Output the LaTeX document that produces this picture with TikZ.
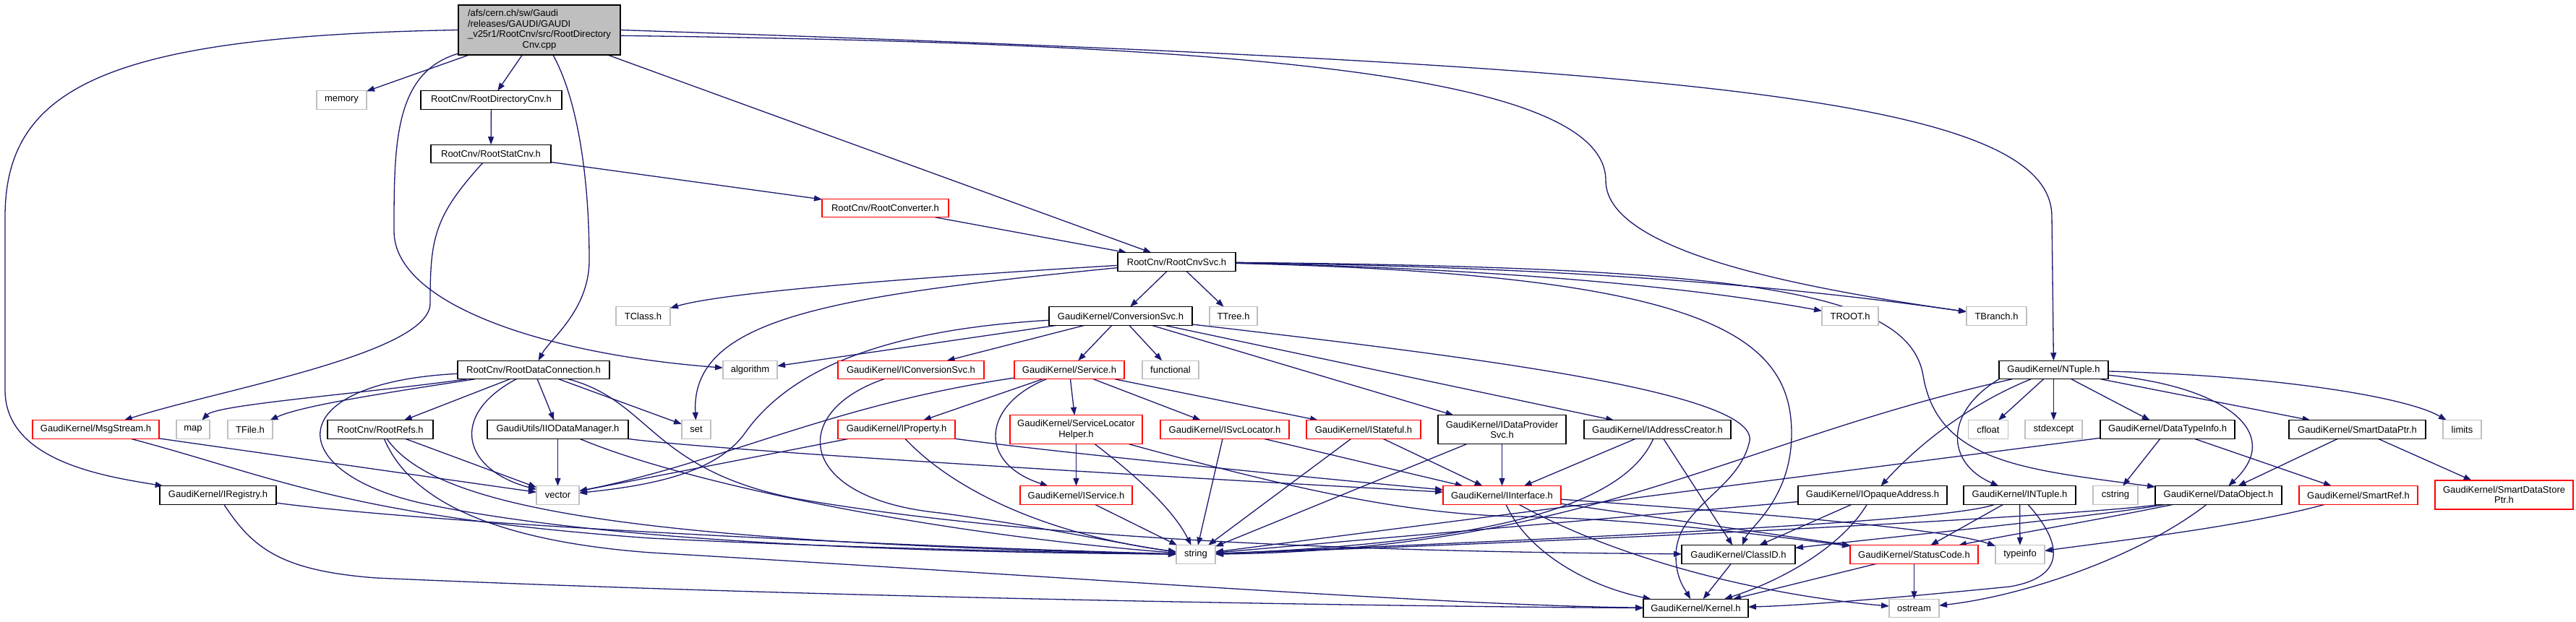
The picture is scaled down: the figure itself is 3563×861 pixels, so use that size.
\documentclass[tikz,border=0pt]{standalone}
\usepackage{fontspec}
\newfontfamily\dfont{Liberation Sans}
\usetikzlibrary{arrows.meta}
\definecolor{edgec}{HTML}{191970}
\definecolor{sysgray}{HTML}{BFBFBF}
\definecolor{rootgray}{HTML}{BFBFBF}
\definecolor{truncred}{HTML}{FF0000}
\pgfdeclarelayer{bg}
\pgfsetlayers{bg,main}
\begin{document}
\begin{tikzpicture}[x=1pt,y=-1pt,
  nd/.style={rectangle,fill=white,line width=1.4pt,inner sep=0pt,outer sep=0pt,minimum height=25.5pt,font=\dfont\fontsize{13}{14.5}\selectfont},
  blk/.style={nd,draw=black},
  sys/.style={nd,draw=sysgray},
  trc/.style={nd,draw=truncred},
  dep/.style={draw=edgec,line width=1.3pt,-{Triangle[length=11pt,width=8pt]}}
]
\useasboundingbox (0,0) rectangle (3563,861);
% ---------- nodes ----------
\node[blk,fill=rootgray,minimum width=224pt,minimum height=69pt] (root) at (746,41.5)
  {\begin{tabular}{@{}l@{}}/afs/cern.ch/sw/Gaudi\\/releases/GAUDI/GAUDI\\\_v25r1/RootCnv/src/RootDirectory\\\multicolumn{1}{@{}c@{}}{Cnv.cpp}\end{tabular}};
\node[sys,minimum width=69pt] (memory) at (472.5,138.5) {memory};
\node[blk,minimum width=195pt] (rdcnv) at (679.5,138.5) {RootCnv/RootDirectoryCnv.h};
\node[blk,minimum width=166pt] (rstat) at (679,213) {RootCnv/RootStatCnv.h};
\node[trc,minimum width=175pt] (rconv) at (1224.5,288) {RootCnv/RootConverter.h};
\node[blk,minimum width=163pt] (rsvc) at (1627.5,362.5) {RootCnv/RootCnvSvc.h};
\node[sys,minimum width=75pt] (tclass) at (889.5,437.5) {TClass.h};
\node[blk,minimum width=198pt] (convsvc) at (1550,437.5) {GaudiKernel/ConversionSvc.h};
\node[sys,minimum width=66pt] (ttree) at (1706,437.5) {TTree.h};
\node[sys,minimum width=78pt] (troot) at (2559,437.5) {TROOT.h};
\node[sys,minimum width=83pt] (tbranch) at (2761.5,437.5) {TBranch.h};
\node[blk,minimum width=210pt] (rdc) at (738,512) {RootCnv/RootDataConnection.h};
\node[sys,minimum width=75pt] (algorithm) at (1037.5,512) {algorithm};
\node[trc,minimum width=202pt] (iconv) at (1260,512) {GaudiKernel/IConversionSvc.h};
\node[trc,minimum width=152pt] (service) at (1479,512) {GaudiKernel/Service.h};
\node[sys,minimum width=78pt] (functional) at (1619,512) {functional};
\node[blk,minimum width=151pt] (ntuple) at (2840.5,512) {GaudiKernel/NTuple.h};
\node[trc,minimum width=175pt] (msg) at (132.5,594.5) {GaudiKernel/MsgStream.h};
\node[sys,minimum width=46pt] (map) at (267,594.5) {map};
\node[sys,minimum width=62pt] (tfile) at (346,594.5) {TFile.h};
\node[blk,minimum width=146pt] (rrefs) at (526,594.5) {RootCnv/RootRefs.h};
\node[blk,minimum width=195pt] (iiodm) at (771.5,594.5) {GaudiUtils/IIODataManager.h};
\node[sys,minimum width=40pt] (set) at (963,594.5) {set};
\node[trc,minimum width=162pt] (iprop) at (1240,594.5) {GaudiKernel/IProperty.h};
\node[trc,minimum width=183pt,minimum height=40pt,align=center] (slh) at (1488.5,594.75) {GaudiKernel/ServiceLocator\\Helper.h};
\node[trc,minimum width=178pt] (isvcloc) at (1694,594.5) {GaudiKernel/ISvcLocator.h};
\node[trc,minimum width=158pt] (istate) at (1886,594.5) {GaudiKernel/IStateful.h};
\node[blk,minimum width=177pt,minimum height=40pt,align=center] (idps) at (2077.5,594.75) {GaudiKernel/IDataProvider\\Svc.h};
\node[blk,minimum width=203pt] (iaddr) at (2292.5,594.5) {GaudiKernel/IAddressCreator.h};
\node[sys,minimum width=55pt] (cfloat) at (2750,594.5) {cfloat};
\node[sys,minimum width=79pt] (stdexcept) at (2840.5,594.5) {stdexcept};
\node[blk,minimum width=186pt] (dti) at (2998,594.5) {GaudiKernel/DataTypeInfo.h};
\node[blk,minimum width=189pt] (sdp) at (3260.5,594.5) {GaudiKernel/SmartDataPtr.h};
\node[sys,minimum width=53pt] (limits) at (3405.5,594.5) {limits};
\node[blk,minimum width=161pt] (ireg) at (301.5,685.5) {GaudiKernel/IRegistry.h};
\node[sys,minimum width=59pt] (vector) at (771.5,685.5) {vector};
\node[trc,minimum width=155pt] (iservice) at (1488.5,685.5) {GaudiKernel/IService.h};
\node[trc,minimum width=163pt] (iinterface) at (2077.5,685.5) {GaudiKernel/IInterface.h};
\node[blk,minimum width=206pt] (iopaque) at (2590,685.5) {GaudiKernel/IOpaqueAddress.h};
\node[blk,minimum width=155pt] (intuple) at (2793.5,685.5) {GaudiKernel/INTuple.h};
\node[sys,minimum width=62pt] (cstring) at (2926,685.5) {cstring};
\node[blk,minimum width=175pt] (dobj) at (3068.5,685.5) {GaudiKernel/DataObject.h};
\node[trc,minimum width=164pt] (sref) at (3262,685.5) {GaudiKernel/SmartRef.h};
\node[trc,minimum width=191pt,minimum height=40pt,align=center] (sdsp) at (3463.5,685) {GaudiKernel/SmartDataStore\\Ptr.h};
\node[sys,minimum width=54pt] (string) at (1654,767.5) {string};
\node[blk,minimum width=157pt] (classid) at (2404.5,767.5) {GaudiKernel/ClassID.h};
\node[trc,minimum width=177pt] (statuscode) at (2647.5,767.5) {GaudiKernel/StatusCode.h};
\node[sys,minimum width=68pt] (typeinfo) at (2794,767.5) {typeinfo};
\node[blk,minimum width=145pt] (kernel) at (2345.5,842) {GaudiKernel/Kernel.h};
\node[sys,minimum width=69pt] (ostream) at (2647.5,842) {ostream};
% ---------- edges ----------
\begin{pgfonlayer}{bg}
\fill[white] (0,0) rectangle (3563,861);
\draw[dep] (root) -- (memory);
\draw[dep] (root) -- (rdcnv);
\draw[dep] (root) .. controls (800,140) and (815,250) .. (815,360) .. controls (815,430) and (760,470) .. (rdc);
\draw[dep] (root) .. controls (545,100) and (545,200) .. (545,320) .. controls (545,420) and (750,490) .. (algorithm);
\draw[dep] (root) -- (rsvc);
\draw[dep] (root.-4) .. controls (1700,60) and (2221,100) .. (2221,250) .. controls (2221,350) and (2500,400) .. (tbranch);
\draw[dep] (root.east) .. controls (2300,90) and (2838,130) .. (2838,300) -- (ntuple);
\draw[dep] (root.west) .. controls (150,50) and (7,120) .. (7,300) -- (7,540) .. controls (7,640) and (150,660) .. (ireg);
\draw[dep] (rdcnv) -- (rstat);
\draw[dep] (rstat) -- (rconv);
\draw[dep] (rstat) .. controls (600,300) and (595,330) .. (595,420) .. controls (595,490) and (300,540) .. (msg);
\draw[dep] (rconv) -- (rsvc);
\draw[dep] (rsvc) .. controls (1250,385) and (1000,405) .. (tclass);
\draw[dep] (rsvc) .. controls (1150,410) and (955,440) .. (set);
\draw[dep] (rsvc) -- (convsvc);
\draw[dep] (rsvc) -- (ttree);
\draw[dep] (rsvc) .. controls (2000,370) and (2300,390) .. (troot);
\draw[dep] (rsvc) .. controls (2200,370) and (2500,400) .. (tbranch);
\draw[dep] (rsvc) .. controls (2350,380) and (2478,460) .. (2478,600) .. controls (2478,690) and (2420,730) .. (classid);
\draw[dep] (rsvc) .. controls (2400,370) and (2640,400) .. (2660,520) .. controls (2680,640) and (2800,650) .. (dobj);
\draw[dep] (convsvc) -- (algorithm);
\draw[dep] (convsvc) -- (iconv);
\draw[dep] (convsvc) -- (service);
\draw[dep] (convsvc) -- (functional);
\draw[dep] (convsvc) .. controls (1250,455) and (1100,500) .. (1030,600) .. controls (990,655) and (900,672) .. (vector);
\draw[dep] (convsvc) -- (idps);
\draw[dep] (convsvc) -- (iaddr);
\draw[dep] (convsvc) .. controls (2000,490) and (2430,540) .. (2420,610) .. controls (2405,680) and (2318,700) .. (2318,770) .. controls (2318,800) and (2330,815) .. (kernel);
\draw[dep] (service) .. controls (1150,560) and (1000,640) .. (vector);
\draw[dep] (service) -- (iprop);
\draw[dep] (service) -- (slh);
\draw[dep] (service) -- (isvcloc);
\draw[dep] (service) -- (istate);
\draw[dep] (service) .. controls (1360,560) and (1350,640) .. (iservice);
\draw[dep] (iconv) .. controls (1090,570) and (1100,690) .. (1300,710) .. controls (1450,730) and (1560,755) .. (string);
\draw[dep] (iprop) -- (vector);
\draw[dep] (iprop) .. controls (1320,680) and (1450,740) .. (string);
\draw[dep] (iprop.south east) .. controls (1450,625) and (1800,660) .. (iinterface);
\draw[dep] (slh) -- (iservice);
\draw[dep] (slh) .. controls (1560,650) and (1620,700) .. (string);
\draw[dep] (slh) .. controls (1800,680) and (1950,712) .. (2100,715) .. controls (2250,718) and (2400,735) .. (statuscode);
\draw[dep] (isvcloc) -- (string);
\draw[dep] (isvcloc) -- (iinterface);
\draw[dep] (istate) -- (string);
\draw[dep] (istate) -- (iinterface);
\draw[dep] (idps) -- (iinterface);
\draw[dep] (idps) -- (string);
\draw[dep] (iaddr) -- (iinterface);
\draw[dep] (iaddr) .. controls (2250,690) and (2100,750) .. (string);
\draw[dep] (iaddr) -- (classid);
\draw[dep] (iservice) -- (string);
\draw[dep] (iinterface) .. controls (2110,760) and (2190,810) .. (kernel);
\draw[dep] (iinterface) .. controls (2250,780) and (2450,825) .. (ostream);
\draw[dep] (iinterface) -- (statuscode);
\draw[dep] (iinterface) .. controls (2500,715) and (2700,735) .. (typeinfo);
\draw[dep] (classid) -- (kernel);
\draw[dep] (statuscode) -- (kernel);
\draw[dep] (statuscode) -- (ostream);
\draw[dep] (iopaque) -- (string);
\draw[dep] (iopaque) -- (classid);
\draw[dep] (iopaque) .. controls (2545,760) and (2460,805) .. (kernel);
\draw[dep] (ntuple) .. controls (2400,610) and (2200,760) .. (string);
\draw[dep] (ntuple) -- (cfloat);
\draw[dep] (ntuple) -- (stdexcept);
\draw[dep] (ntuple) -- (dti);
\draw[dep] (ntuple) -- (sdp);
\draw[dep] (ntuple) .. controls (3150,520) and (3330,550) .. (limits);
\draw[dep] (ntuple.south west) .. controls (2690,570) and (2690,640) .. (intuple);
\draw[dep] (ntuple) .. controls (3080,535) and (3160,600) .. (dobj);
\draw[dep] (ntuple) .. controls (2710,565) and (2640,630) .. (iopaque);
\draw[dep] (dti) -- (string);
\draw[dep] (dti) -- (cstring);
\draw[dep] (dti) -- (sref);
\draw[dep] (sdp) -- (dobj);
\draw[dep] (sdp) -- (sdsp);
\draw[dep] (intuple) .. controls (2700,720) and (2300,740) .. (string);
\draw[dep] (intuple) -- (statuscode);
\draw[dep] (intuple) -- (typeinfo);
\draw[dep] (intuple) .. controls (2860,760) and (2850,800) .. (2780,812) .. controls (2650,825) and (2500,838) .. (kernel);
\draw[dep] (dobj) .. controls (2900,712) and (2300,745) .. (string);
\draw[dep] (dobj) .. controls (2900,715) and (2600,745) .. (classid);
\draw[dep] (dobj) .. controls (2900,720) and (2780,740) .. (statuscode);
\draw[dep] (dobj) .. controls (2960,770) and (2800,825) .. (ostream);
\draw[dep] (sref) .. controls (3100,730) and (2900,752) .. (typeinfo);
\draw[dep] (rdc) .. controls (500,545) and (300,560) .. (map);
\draw[dep] (rdc) .. controls (560,540) and (420,560) .. (tfile);
\draw[dep] (rdc) .. controls (380,530) and (390,660) .. (600,700) .. controls (900,760) and (1400,765) .. (string);
\draw[dep] (rdc) -- (rrefs);
\draw[dep] (rdc) .. controls (620,575) and (640,650) .. (vector);
\draw[dep] (rdc) -- (iiodm);
\draw[dep] (rdc) -- (set);
\draw[dep] (rdc) .. controls (900,555) and (900,650) .. (1100,690) .. controls (1500,760) and (2100,765) .. (classid);
\draw[dep] (rrefs) -- (vector);
\draw[dep] (rrefs) .. controls (600,700) and (850,750) .. (string);
\draw[dep] (rrefs) .. controls (570,700) and (700,750) .. (900,765) .. controls (1500,800) and (2000,838) .. (kernel);
\draw[dep] (msg) -- (vector);
\draw[dep] (msg) .. controls (380,660) and (480,715) .. (900,745) .. controls (1200,760) and (1500,765) .. (string);
\draw[dep] (ireg) .. controls (600,725) and (1200,755) .. (string);
\draw[dep] (ireg) .. controls (350,760) and (390,790) .. (520,800) .. controls (1200,830) and (2000,840) .. (kernel);
\draw[dep] (iiodm) -- (vector);
\draw[dep] (iiodm) .. controls (950,670) and (1300,740) .. (string);
\draw[dep] (iiodm) .. controls (1000,625) and (1700,665) .. (iinterface);
\end{pgfonlayer}
\end{tikzpicture}
\end{document}
